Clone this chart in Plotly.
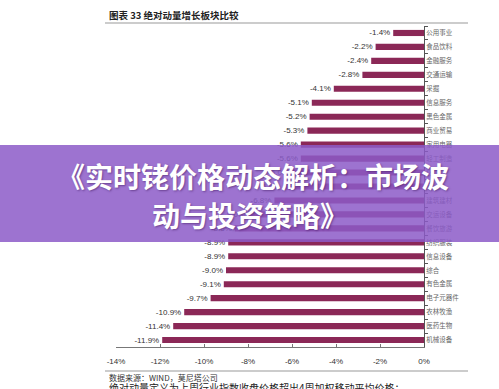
import plotly.graph_objects as go

categories = ["公用事业", "食品饮料", "金融服务", "交通运输", "采掘", "信息服务", "黑色金属",
              "商业贸易", "家用电器", "轻工制造", "化工", "房地产", "建筑建材", "交运设备",
              "餐饮旅游", "纺织服装", "信息设备", "综合", "有色金属", "电子元器件", "农林牧渔",
              "医药生物", "机械设备"]
values = [-1.4, -2.2, -2.4, -2.8, -4.1, -5.1, -5.2, -5.3, -5.6, -5.6, -6.0, -6.4, -6.8, -8.0,
          -8.6, -8.9, -8.9, -9.0, -9.1, -9.7, -10.9, -11.4, -11.9]
x_ticks = [-14, -12, -10, -8, -6, -4, -2, 0]
x_tick_labels = ["-14%", "-12%", "-10%", "-8%", "-6%", "-4%", "-2%", "0%"]

title_text = "图表 33 绝对动量增长板块比较"
source_text = "数据来源：WIND，莫尼塔公司"
note_text = "绝对动量定义为上周行业指数收盘价格超出4周加权移动平均价格；"
banner_line1 = "《实时铑价格动态解析：市场波"
banner_line2 = "动与投资策略》"

W, H = 499, 389
L, R, T, B = 116, 75, 26, 42
PW, PH = W - L - R, H - T - B

def xp(px):
    return (px - L) / PW

def yp(py):
    return (H - B - py) / PH

CJK = "Noto Sans CJK SC"

fig = go.Figure()
fig.add_trace(go.Bar(
    y=categories, x=values, orientation="h",
    marker=dict(color="#8B2857", line=dict(width=0)),
    width=0.44,
    text=[f"{v:.1f}%" for v in values],
    textposition="outside",
    constraintext="none",
    textfont=dict(size=8, color="#333333", family="Liberation Sans"),
    cliponaxis=False,
))

fig.update_layout(
    width=W, height=H,
    margin=dict(l=L, r=R, t=T, b=B),
    paper_bgcolor="white", plot_bgcolor="white",
    showlegend=False,
    xaxis=dict(
        range=[-14, 0], tickvals=x_ticks, ticktext=x_tick_labels,
        showgrid=False, zeroline=False,
        showline=True, linecolor="#777777", linewidth=1,
        ticks="inside", ticklen=3, tickcolor="#777777",
        tickfont=dict(size=8, color="#333333", family="Liberation Sans"),
        ticklabelstandoff=6,
    ),
    yaxis=dict(
        autorange="reversed", side="right",
        showgrid=False, zeroline=False,
        showline=True, linecolor="#555555", linewidth=1,
        ticks="outside", ticklen=3, tickcolor="#555555", tickson="boundaries",
        tickfont=dict(size=6.5, color="#666666", family=CJK),
        anchor="x", position=1,
    ),
    font=dict(family=CJK),
)

shapes = [
    dict(type="line", xref="paper", yref="paper", x0=xp(105), x1=xp(468), y0=yp(23), y1=yp(23),
         line=dict(color="#999999", width=1)),
    dict(type="line", xref="paper", yref="paper", x0=xp(105), x1=xp(468), y0=yp(371), y1=yp(371),
         line=dict(color="#999999", width=1)),
    dict(type="rect", xref="paper", yref="paper", x0=xp(0), x1=xp(W), y0=yp(242), y1=yp(145),
         fillcolor="rgba(140,90,200,0.85)", line=dict(width=0), layer="above"),
]
fig.update_layout(shapes=shapes)

annotations = [
    dict(text=title_text, xref="paper", yref="paper", x=xp(107), y=yp(15),
         xanchor="left", yanchor="middle", showarrow=False,
         font=dict(size=9.5, color="#222222", family=CJK, weight="bold")),
    dict(text=source_text, xref="paper", yref="paper", x=xp(107), y=yp(377),
         xanchor="left", yanchor="middle", showarrow=False,
         font=dict(size=8, color="#333333", family=CJK)),
    dict(text=note_text, xref="paper", yref="paper", x=xp(107), y=yp(388),
         xanchor="left", yanchor="middle", showarrow=False,
         font=dict(size=10, color="#222222", family=CJK)),
    dict(text=banner_line1, xref="paper", yref="paper", x=xp(253), y=yp(176),
         xanchor="center", yanchor="middle", showarrow=False,
         font=dict(size=28, color="white", family=CJK, weight="bold",
                   shadow="1px 1px 2px rgba(60,20,90,0.5)")),
    dict(text=banner_line2, xref="paper", yref="paper", x=xp(250), y=yp(215),
         xanchor="center", yanchor="middle", showarrow=False,
         font=dict(size=28, color="white", family=CJK, weight="bold",
                   shadow="1px 1px 2px rgba(60,20,90,0.5)")),
]
fig.update_layout(annotations=annotations)

fig.write_html("out.html", config={"displayModeBar": False},
               post_script="document.body.style.margin='0';document.body.style.overflow='hidden';")
